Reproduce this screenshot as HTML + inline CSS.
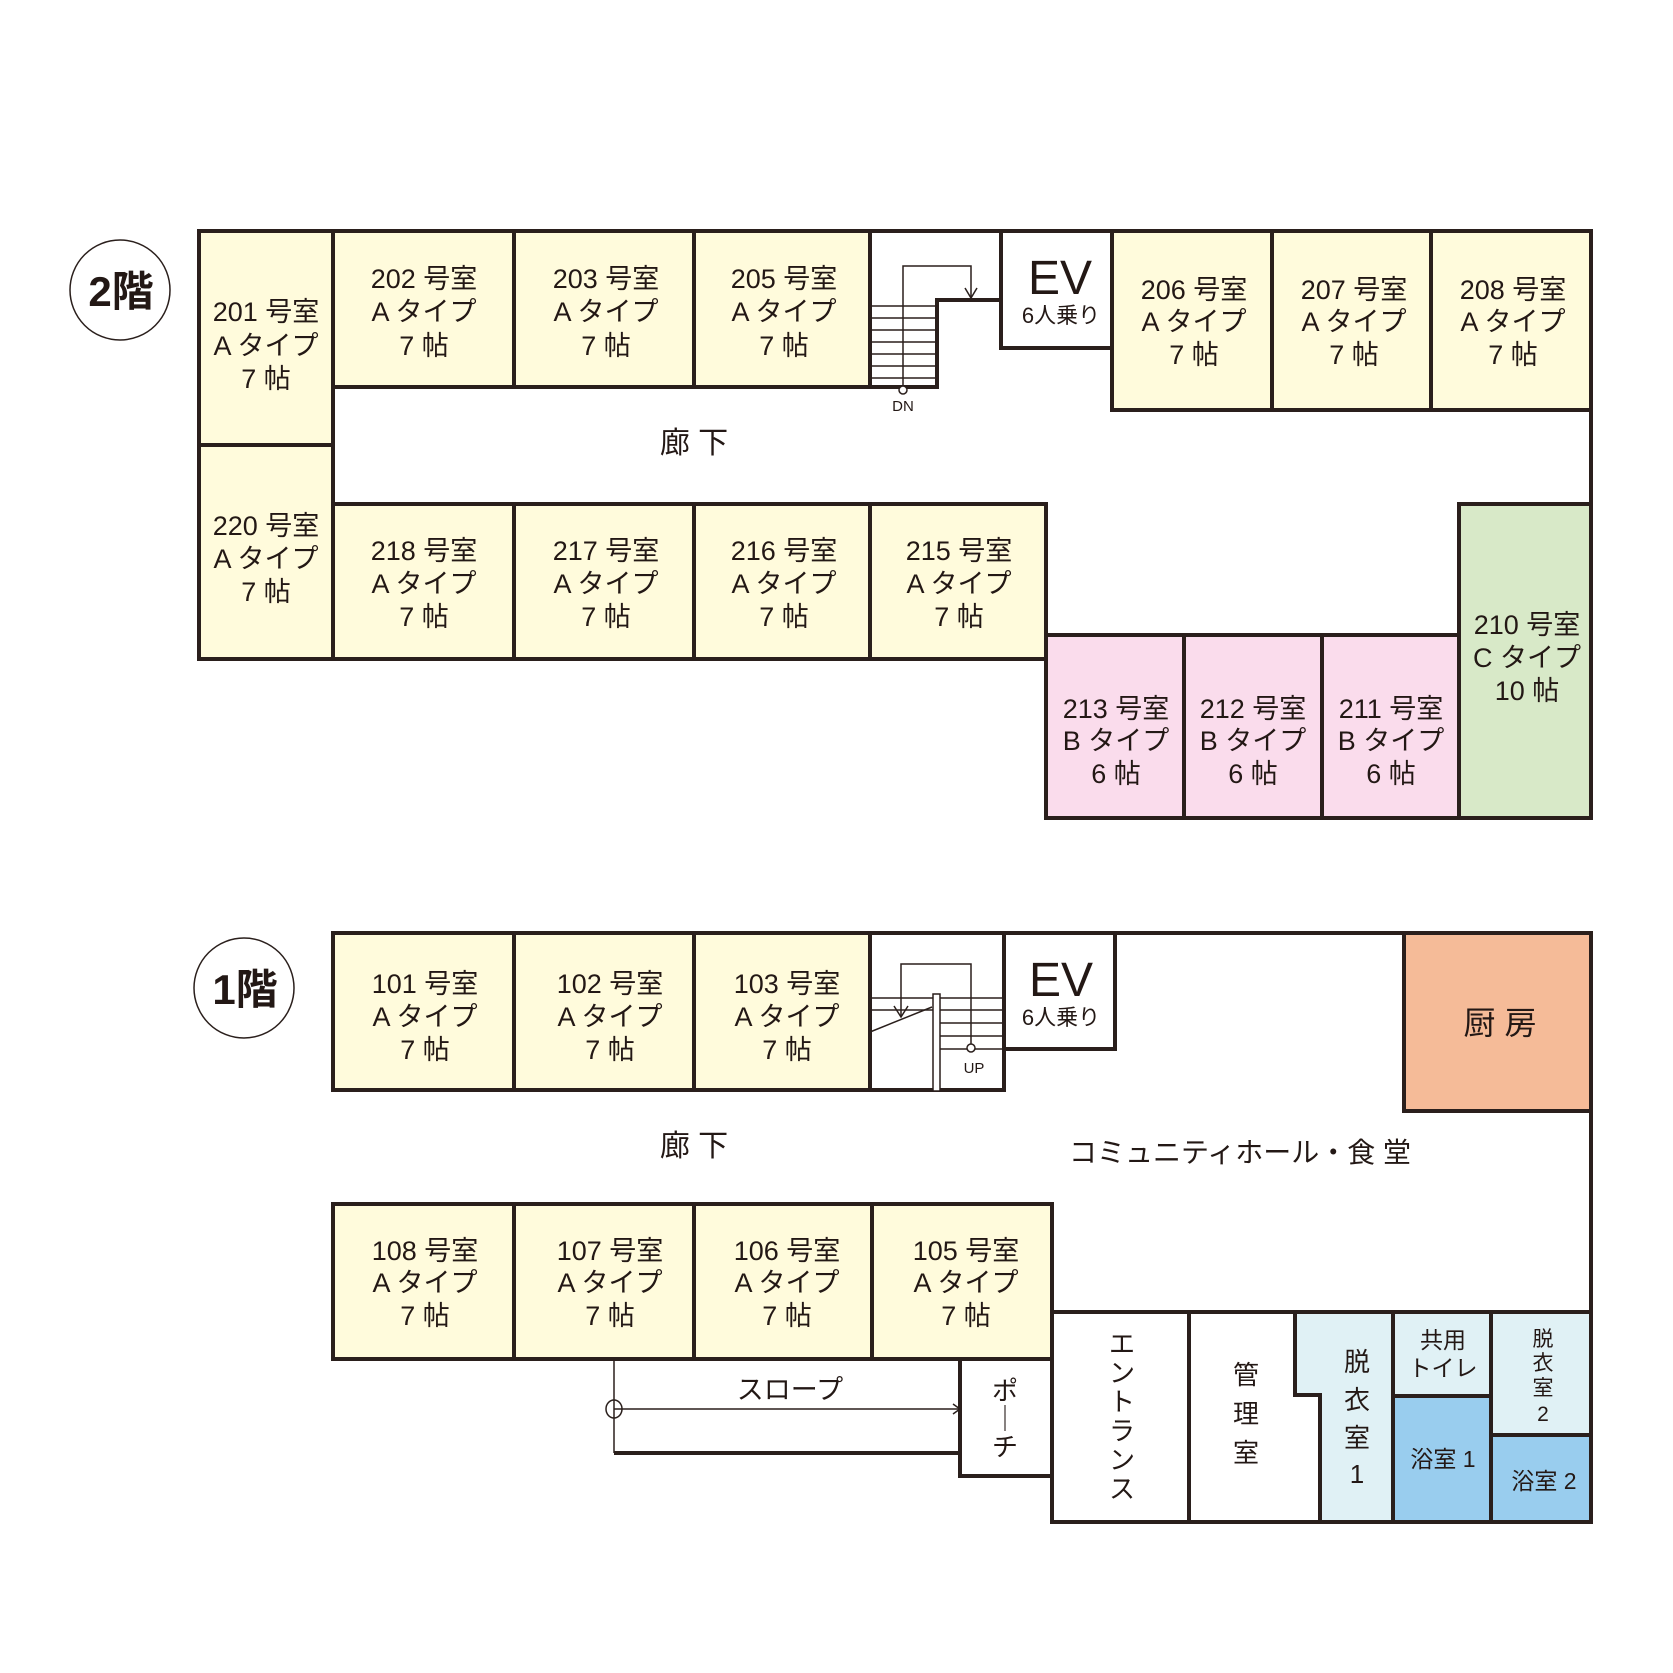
<!DOCTYPE html>
<html><head><meta charset="utf-8"><style>
html,body{margin:0;padding:0;background:#fff;}
svg{display:block;}
text{font-family:"Liberation Sans","Noto Sans CJK JP",sans-serif;fill:#231815;text-anchor:middle;}
</style></head><body>
<svg width="1673" height="1673" viewBox="0 0 1673 1673" xmlns="http://www.w3.org/2000/svg">
<g stroke="#2a1f1c" stroke-width="4">
<!-- 2F rooms -->
<rect x="199" y="231" width="134" height="214" fill="#fffbdc"/>
<rect x="199" y="445" width="134" height="214" fill="#fffbdc"/>
<rect x="333" y="231" width="181" height="156" fill="#fffbdc"/>
<rect x="514" y="231" width="180" height="156" fill="#fffbdc"/>
<rect x="694" y="231" width="176" height="156" fill="#fffbdc"/>
<rect x="1001" y="231" width="111" height="117" fill="#fff"/>
<rect x="1112" y="231" width="160" height="179" fill="#fffbdc"/>
<rect x="1272" y="231" width="159" height="179" fill="#fffbdc"/>
<rect x="1431" y="231" width="160" height="179" fill="#fffbdc"/>
<rect x="333" y="504" width="181" height="155" fill="#fffbdc"/>
<rect x="514" y="504" width="180" height="155" fill="#fffbdc"/>
<rect x="694" y="504" width="176" height="155" fill="#fffbdc"/>
<rect x="870" y="504" width="176" height="155" fill="#fffbdc"/>
<rect x="1046" y="635" width="138" height="183" fill="#fadcec"/>
<rect x="1184" y="635" width="138" height="183" fill="#fadcec"/>
<rect x="1322" y="635" width="137" height="183" fill="#fadcec"/>
<rect x="1459" y="504" width="132" height="314" fill="#d8e9c8"/>
<line x1="199" y1="231" x2="1591" y2="231"/>
<line x1="1591" y1="231" x2="1591" y2="818"/>
<polyline fill="none" points="870,387 937,387 937,300 1001,300"/>
</g>
<!-- 2F stairs -->
<g stroke="#2a1f1c" stroke-width="1.5" fill="none">
<line x1="870" y1="231" x2="870" y2="387"/>
<line x1="870" y1="306" x2="937" y2="306"/><line x1="870" y1="318" x2="937" y2="318"/>
<line x1="870" y1="330" x2="937" y2="330"/><line x1="870" y1="342" x2="937" y2="342"/>
<line x1="870" y1="354" x2="937" y2="354"/><line x1="870" y1="366" x2="937" y2="366"/>
<line x1="870" y1="378" x2="937" y2="378"/>
<polyline points="903,387 903,266 971,266 971,298"/>
<polyline points="965,288 971,298 977,288"/>
<circle cx="903" cy="390" r="4" fill="#fff"/>
</g>
<!-- 1F -->
<g stroke="#2a1f1c" stroke-width="4">
<rect x="333" y="933" width="181" height="157" fill="#fffbdc"/>
<rect x="514" y="933" width="180" height="157" fill="#fffbdc"/>
<rect x="694" y="933" width="176" height="157" fill="#fffbdc"/>
<rect x="870" y="933" width="134" height="157" fill="#fff"/>
<rect x="1004" y="933" width="111" height="116" fill="#fff"/>
<rect x="1404" y="933" width="187" height="178" fill="#f5bb98"/>
<rect x="333" y="1204" width="181" height="155" fill="#fffbdc"/>
<rect x="514" y="1204" width="180" height="155" fill="#fffbdc"/>
<rect x="694" y="1204" width="178" height="155" fill="#fffbdc"/>
<rect x="872" y="1204" width="180" height="155" fill="#fffbdc"/>
<rect x="1052" y="1312" width="137" height="210" fill="#fff"/>
<rect x="1189" y="1312" width="131" height="210" fill="#fff"/>
<polygon points="1295,1312 1393,1312 1393,1522 1320,1522 1320,1395 1295,1395" fill="#e0f1f5"/>
<rect x="1393" y="1312" width="98" height="84" fill="#e0f1f5"/>
<rect x="1393" y="1396" width="98" height="126" fill="#99cdee"/>
<rect x="1491" y="1312" width="100" height="123" fill="#e0f1f5"/>
<rect x="1491" y="1435" width="100" height="87" fill="#99cdee"/>
<rect x="960" y="1359" width="92" height="117" fill="#fff"/>
<line x1="333" y1="933" x2="1591" y2="933"/>
<line x1="1591" y1="933" x2="1591" y2="1522"/>
<line x1="1052" y1="1312" x2="1591" y2="1312"/>
<line x1="614" y1="1453" x2="960" y2="1453"/>
</g>
<g stroke="#2a1f1c" stroke-width="1.5" fill="none">
<line x1="614" y1="1359" x2="614" y2="1453"/>
<line x1="614" y1="1409" x2="960" y2="1409"/>
<polyline points="953,1404 960,1409 953,1414"/>
<ellipse cx="614" cy="1409" rx="8" ry="9" fill="none"/>
<!-- 1F stairs -->
<line x1="870" y1="998" x2="1004" y2="998"/><line x1="870" y1="1010" x2="1004" y2="1010"/>
<line x1="940" y1="1023" x2="1004" y2="1023"/><line x1="940" y1="1036" x2="1004" y2="1036"/>
<line x1="940" y1="1049" x2="1004" y2="1049"/>
<line x1="870" y1="1032" x2="932" y2="1007"/>
<polyline points="901,1016 901,964 971,964 971,1044"/>
<polyline points="894,1006 901,1017 908,1006"/>
<circle cx="971" cy="1048" r="4" fill="#fff"/>
<rect x="933" y="994" width="7" height="97" fill="#fff"/>
</g>
<!-- circles -->
<g stroke="#2a1f1c" stroke-width="1.5" fill="#fff">
<ellipse cx="120" cy="290" rx="50" ry="50"/>
<ellipse cx="244" cy="988" rx="50" ry="50"/>
</g>
<text x="121" y="306" font-size="42" font-weight="bold">2階</text>
<text x="245" y="1004" font-size="42" font-weight="bold">1階</text>

<g font-size="27">
<!-- 2F -->
<text x="266" y="321">201 号室</text><text x="266" y="355">A タイプ</text><text x="266" y="388">7 帖</text>
<text x="266" y="535">220 号室</text><text x="266" y="568">A タイプ</text><text x="266" y="601">7 帖</text>
<text x="424" y="288">202 号室</text><text x="424" y="321">A タイプ</text><text x="424" y="355">7 帖</text>
<text x="606" y="288">203 号室</text><text x="606" y="321">A タイプ</text><text x="606" y="355">7 帖</text>
<text x="784" y="288">205 号室</text><text x="784" y="321">A タイプ</text><text x="784" y="355">7 帖</text>
<text x="1194" y="299">206 号室</text><text x="1194" y="331">A タイプ</text><text x="1194" y="364">7 帖</text>
<text x="1354" y="299">207 号室</text><text x="1354" y="331">A タイプ</text><text x="1354" y="364">7 帖</text>
<text x="1513" y="299">208 号室</text><text x="1513" y="331">A タイプ</text><text x="1513" y="364">7 帖</text>
<text x="424" y="560">218 号室</text><text x="424" y="593">A タイプ</text><text x="424" y="626">7 帖</text>
<text x="606" y="560">217 号室</text><text x="606" y="593">A タイプ</text><text x="606" y="626">7 帖</text>
<text x="784" y="560">216 号室</text><text x="784" y="593">A タイプ</text><text x="784" y="626">7 帖</text>
<text x="959" y="560">215 号室</text><text x="959" y="593">A タイプ</text><text x="959" y="626">7 帖</text>
<text x="1116" y="718">213 号室</text><text x="1116" y="750">B タイプ</text><text x="1116" y="783">6 帖</text>
<text x="1253" y="718">212 号室</text><text x="1253" y="750">B タイプ</text><text x="1253" y="783">6 帖</text>
<text x="1391" y="718">211 号室</text><text x="1391" y="750">B タイプ</text><text x="1391" y="783">6 帖</text>
<text x="1527" y="634">210 号室</text><text x="1527" y="667">C タイプ</text><text x="1527" y="700">10 帖</text>
<text x="694" y="453" font-size="30">廊 下</text>
<!-- 1F -->
<text x="425" y="993">101 号室</text><text x="425" y="1026">A タイプ</text><text x="425" y="1059">7 帖</text>
<text x="610" y="993">102 号室</text><text x="610" y="1026">A タイプ</text><text x="610" y="1059">7 帖</text>
<text x="787" y="993">103 号室</text><text x="787" y="1026">A タイプ</text><text x="787" y="1059">7 帖</text>
<text x="425" y="1260">108 号室</text><text x="425" y="1292">A タイプ</text><text x="425" y="1325">7 帖</text>
<text x="610" y="1260">107 号室</text><text x="610" y="1292">A タイプ</text><text x="610" y="1325">7 帖</text>
<text x="787" y="1260">106 号室</text><text x="787" y="1292">A タイプ</text><text x="787" y="1325">7 帖</text>
<text x="966" y="1260">105 号室</text><text x="966" y="1292">A タイプ</text><text x="966" y="1325">7 帖</text>
<text x="694" y="1156" font-size="30">廊 下</text>
<text x="1240" y="1162" font-size="28">コミュニティホール・食 堂</text>
<text x="1500" y="1034" font-size="32">厨 房</text>
<text x="790" y="1399" font-size="27">スロープ</text>
</g>
<text x="1060" y="294" font-size="48">EV</text>
<text x="1061" y="323" font-size="22">6人乗り</text>
<text x="1061" y="996" font-size="48">EV</text>
<text x="1061" y="1025" font-size="22">6人乗り</text>
<text x="903" y="411" font-size="15">DN</text>
<text x="974" y="1073" font-size="15">UP</text>
<g font-size="26">
<text x="1005" y="1400">ポ</text><text x="1005" y="1428">｜</text><text x="1005" y="1456">チ</text>
<text x="1122" y="1353">エ</text><text x="1122" y="1382">ン</text><text x="1122" y="1411">ト</text><text x="1122" y="1440">ラ</text><text x="1122" y="1469">ン</text><text x="1122" y="1498">ス</text>
<text x="1246" y="1384">管</text><text x="1246" y="1423">理</text><text x="1246" y="1462">室</text>
<text x="1357" y="1371">脱</text><text x="1357" y="1409">衣</text><text x="1357" y="1447">室</text><text x="1357" y="1483">1</text>
</g>
<g font-size="23">
<text x="1443" y="1348">共用</text><text x="1443" y="1376">トイレ</text>
<text x="1443" y="1467">浴室 1</text>
<text x="1544" y="1489">浴室 2</text>
</g>
<g font-size="21">
<text x="1543" y="1346">脱</text><text x="1543" y="1370">衣</text><text x="1543" y="1395">室</text><text x="1543" y="1421">2</text>
</g>
</svg>
</body></html>
